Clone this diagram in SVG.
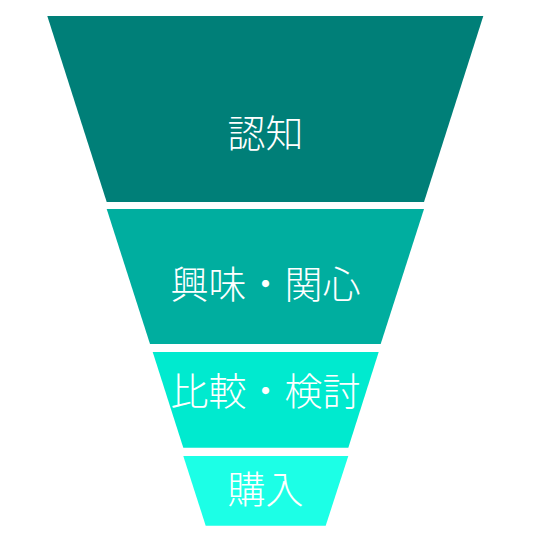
<svg xmlns="http://www.w3.org/2000/svg" width="540" height="558" viewBox="0 0 540 558">
<style>
.lbl{font-family:"Noto Sans CJK JP","Noto Sans CJK SC",sans-serif;font-size:38px;font-weight:300;fill:#ffffff;text-anchor:middle;}
</style>
<rect width="540" height="558" fill="#ffffff"/>
<g id="stage1">
<polygon points="47.3,16 483.3,16 424,202 106.7,202" fill="#007F78"/>
<text class="lbl" x="265.5" y="147">認知</text>
</g>
<g id="stage2">
<polygon points="106.7,209 424,209 380.7,344 150,344" fill="#00AE9F"/>
<text class="lbl" x="265.5" y="298">興味・関心</text>
</g>
<g id="stage3">
<polygon points="152.7,352 378.7,352 348.3,447.7 183.3,447.7" fill="#00EACF"/>
<text class="lbl" x="265.5" y="405">比較・検討</text>
</g>
<g id="stage4">
<polygon points="183.3,456 348.3,456 325.7,525.7 205.7,525.7" fill="#1CFFE6"/>
<text class="lbl" x="265.5" y="503">購入</text>
</g>
<g id="connectors"></g>
</svg>
